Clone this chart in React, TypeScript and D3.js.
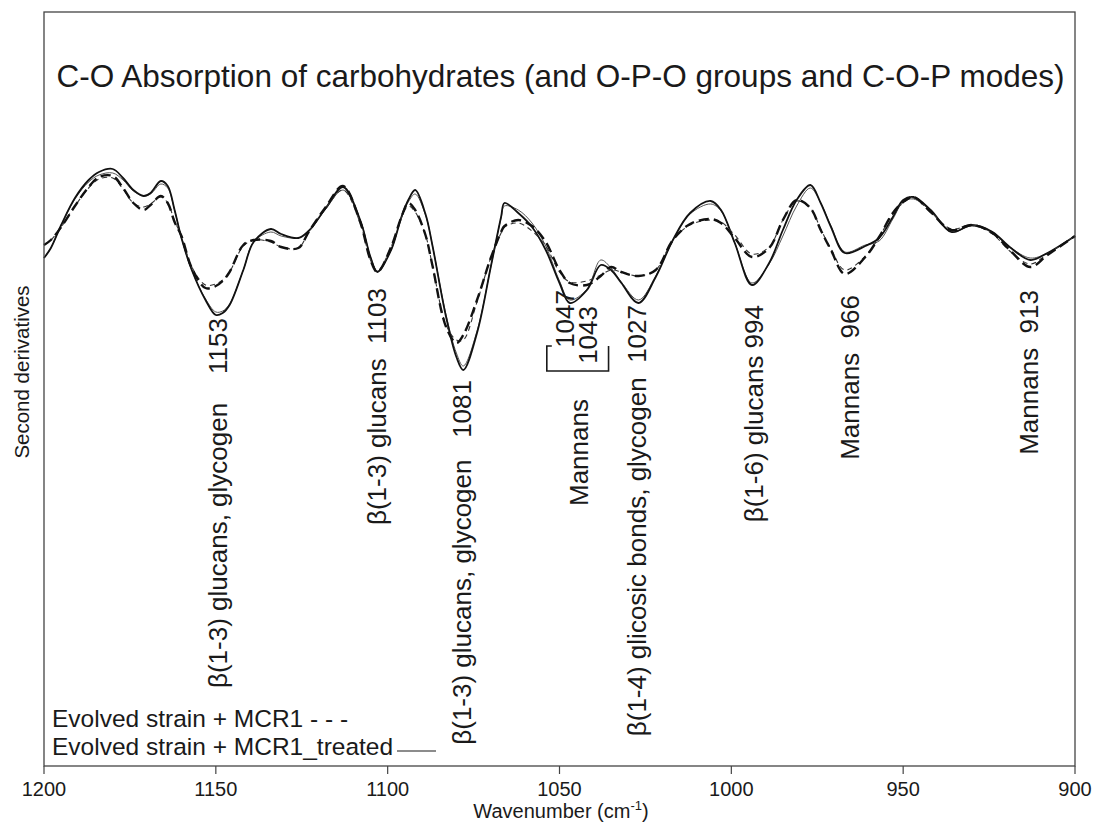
import React from "react";
import * as d3 from "d3";

// Wavenumber grid (cm-1) shared by every spectrum
const wavenumbers = [
  1200, 1198, 1195, 1191, 1187, 1184, 1180, 1177, 1174, 1171, 1169, 1166, 1164, 1162, 1160, 1157,
  1153, 1150, 1148, 1146, 1142, 1139, 1134, 1131, 1126, 1123, 1118, 1113, 1108, 1105, 1103, 1099,
  1096, 1094, 1092, 1089, 1087, 1083, 1080, 1078, 1074, 1070, 1067, 1066, 1062, 1058, 1054, 1050,
  1047, 1042, 1038, 1035, 1032, 1027, 1022, 1017, 1012, 1006, 1003, 999, 994, 989, 985, 981, 977,
  974, 971, 967, 961, 957, 953, 950, 947, 942, 936, 930, 924, 919, 913, 908, 900,
];

// Evolved strain + MCR1 (dashed), two replicate spectra
const mcr1 = [
  0.05, 0.1, 0.23, 0.44, 0.63, 0.73, 0.74, 0.62, 0.47, 0.4, 0.45, 0.54, 0.47, 0.28, 0.14, -0.18,
  -0.38, -0.36, -0.31, -0.22, 0.05, 0.1, 0.09, 0.03, 0.02, 0.18, 0.43, 0.64, 0.28, -0.1, -0.22, 0.03,
  0.33, 0.47, 0.4, 0.15, -0.15, -0.77, -0.93, -0.85, -0.5, -0.08, 0.18, 0.24, 0.3, 0.24, 0.08, -0.2,
  -0.33, -0.35, -0.26, -0.17, -0.22, -0.26, -0.2, 0.1, 0.26, 0.31, 0.27, 0.12, -0.07, 0.02, 0.3, 0.5, 0.42,
  0.2, 0.0, -0.24, -0.07, 0.13, 0.37, 0.48, 0.53, 0.38, 0.2, 0.25, 0.17, 0.0, -0.17, -0.05, 0.14,
];
const mcr1Replicate = [
  0.05, 0.1, 0.23, 0.44, 0.62, 0.71, 0.72, 0.61, 0.47, 0.43, 0.46, 0.53, 0.47, 0.29, 0.14, -0.17,
  -0.35, -0.34, -0.3, -0.22, 0.04, 0.1, 0.08, 0.03, 0.02, 0.18, 0.42, 0.6, 0.27, -0.1, -0.21, 0.03,
  0.32, 0.44, 0.38, 0.15, -0.15, -0.75, -0.9, -0.9, -0.52, -0.08, 0.17, 0.23, 0.27, 0.19, 0.04, -0.22,
  -0.32, -0.31, -0.25, -0.2, -0.22, -0.26, -0.2, 0.1, 0.25, 0.3, 0.28, 0.15, -0.04, 0.03, 0.3, 0.49, 0.42,
  0.21, 0.01, -0.2, -0.06, 0.13, 0.36, 0.47, 0.52, 0.38, 0.21, 0.25, 0.16, -0.01, -0.14, -0.04, 0.14,
];

// Evolved strain + MCR1_treated (solid), two replicate spectra
const mcr1Treated = [
  -0.08, 0.02, 0.25, 0.52, 0.7, 0.78, 0.81, 0.72, 0.6, 0.54, 0.57, 0.69, 0.64, 0.4, 0.12, -0.2,
  -0.5, -0.65, -0.63, -0.55, -0.2, 0.08, 0.21, 0.16, 0.12, 0.19, 0.42, 0.63, 0.3, -0.07, -0.22, 0.0,
  0.33, 0.5, 0.6, 0.36, 0.05, -0.67, -1.07, -1.2, -0.83, -0.17, 0.33, 0.47, 0.37, 0.23, 0.0, -0.33,
  -0.53, -0.4, -0.15, -0.2, -0.33, -0.53, -0.27, 0.1, 0.37, 0.49, 0.4, 0.07, -0.35, -0.13, 0.2, 0.5, 0.65,
  0.47, 0.23, -0.03, 0.04, 0.12, 0.33, 0.5, 0.53, 0.4, 0.18, 0.25, 0.18, 0.03, -0.1, -0.03, 0.14,
];
const mcr1TreatedReplicate = [
  -0.08, 0.02, 0.25, 0.51, 0.68, 0.75, 0.77, 0.7, 0.59, 0.54, 0.56, 0.66, 0.62, 0.4, 0.12, -0.2,
  -0.49, -0.62, -0.61, -0.54, -0.2, 0.08, 0.18, 0.14, 0.12, 0.19, 0.41, 0.6, 0.3, -0.07, -0.21, 0.0,
  0.33, 0.48, 0.56, 0.35, 0.05, -0.65, -1.03, -1.16, -0.81, -0.17, 0.32, 0.44, 0.4, 0.27, 0.04, -0.31,
  -0.5, -0.39, -0.1, -0.18, -0.32, -0.5, -0.26, 0.1, 0.36, 0.46, 0.39, 0.07, -0.33, -0.14, 0.14, 0.44, 0.62,
  0.47, 0.24, -0.02, 0.05, 0.09, 0.31, 0.48, 0.51, 0.39, 0.18, 0.24, 0.17, 0.03, -0.08, -0.03, 0.14,
];

const xTicks = [1200, 1150, 1100, 1050, 1000, 950, 900];

// Assigned bands (cm-1) and what they are attributed to
const bandNumbers = [1153, 1103, 1081, 1047, 1043, 1027, 994, 966, 913];
const bandAssignments = [
  "β(1-3) glucans, glycogen",
  "β(1-3) glucans",
  "β(1-3) glucans, glycogen",
  "Mannans",
  "Mannans",
  "β(1-4) glicosic bonds, glycogen",
  "β(1-6) glucans",
  "Mannans",
  "Mannans",
];

const FONT = "Arial, 'Liberation Sans', Helvetica, sans-serif";
const INK = "#1a1a1a";

export default function App() {
  const W = 1103;
  const H = 827;
  const plot = { left: 44, right: 1075, top: 12, bottom: 766 };

  const x = d3.scaleLinear().domain([1200, 900]).range([plot.left, plot.right]);
  const y = d3.scaleLinear().domain([-5.16, 2.38]).range([plot.bottom, plot.top]);

  const line = d3
    .line<number>()
    .x((_, i) => x(wavenumbers[i]))
    .y((d) => y(d))
    .curve(d3.curveCatmullRom.alpha(0.5));

  // label placement: horizontal nudge from the band position, where the label ends (top),
  // and the width of the gap between assignment and band position
  const labelSpots = [
    { dx: 12, top: 318, gap: 4 },
    { dx: 0, top: 288, gap: 2 },
    { dx: 9, top: 380, gap: 3 },
    { dx: -5, top: 290, gap: 0 },
    { dx: 4, top: 306, gap: 0 },
    { dx: -2, top: 305, gap: 2 },
    { dx: 2, top: 305, gap: 1 },
    { dx: 2, top: 295, gap: 2 },
    { dx: -1, top: 290, gap: 2 },
  ];

  const LABEL_SIZE = 26;

  const vText = (key: string, cx: number, cy: number, anchor: string, text: string) => (
    <text
      key={key}
      transform={`translate(${cx},${cy}) rotate(-90)`}
      textAnchor={anchor}
      dominantBaseline="central"
      fontSize={LABEL_SIZE}
      fontFamily={FONT}
      fill={INK}
      style={{ whiteSpace: "pre" }}
    >
      {text}
    </text>
  );

  // 1047 and 1043 share one "Mannans" label under a bracket
  const pair = [3, 4];
  const bx0 = x(1047) - 23;
  const bx1 = x(1043) + 25;
  const pairCenter = (bx0 + bx1) / 2;

  return (
    <svg
      width={W}
      height={H}
      style={{ position: "absolute", left: 0, top: 0, background: "#fff" }}
    >
      <rect x={0} y={0} width={W} height={H} fill="#fff" />

      {/* spectra */}
      <path d={line(mcr1TreatedReplicate) || ""} fill="none" stroke="#555" strokeWidth={1} />
      <path d={line(mcr1Treated) || ""} fill="none" stroke="#111" strokeWidth={1.8} />
      <path
        d={line(mcr1Replicate) || ""}
        fill="none"
        stroke="#333"
        strokeWidth={1.1}
        strokeDasharray="5 4"
      />
      <path
        d={line(mcr1) || ""}
        fill="none"
        stroke="#111"
        strokeWidth={2.4}
        strokeDasharray="10 5"
      />

      {/* frame */}
      <rect
        x={plot.left}
        y={plot.top}
        width={plot.right - plot.left}
        height={plot.bottom - plot.top}
        fill="none"
        stroke="#444"
        strokeWidth={1.3}
      />

      {/* title */}
      <text
        x={(plot.left + plot.right) / 2 + 1}
        y={87}
        textAnchor="middle"
        fontSize={31.5}
        fontFamily={FONT}
        fill={INK}
      >
        C-O Absorption of carbohydrates (and O-P-O groups and C-O-P modes)
      </text>

      {/* x axis ticks and labels */}
      {xTicks.map((t) => (
        <g key={t}>
          <line x1={x(t)} x2={x(t)} y1={plot.bottom} y2={plot.bottom + 8} stroke="#444" strokeWidth={1.2} />
          <text
            x={x(t)}
            y={plot.bottom + 30}
            textAnchor="middle"
            fontSize={20}
            fontFamily={FONT}
            fill={INK}
          >
            {t}
          </text>
        </g>
      ))}
      <text x={561} y={818} textAnchor="middle" fontSize={20} fontFamily={FONT} fill={INK}>
        Wavenumber (cm
        <tspan fontSize={13} dy={-8}>-1</tspan>
        <tspan dy={8}>)</tspan>
      </text>

      {/* y axis title */}
      <text
        transform={`translate(21,${372}) rotate(-90)`}
        textAnchor="middle"
        dominantBaseline="central"
        fontSize={20.5}
        fontFamily={FONT}
        fill={INK}
      >
        Second derivatives
      </text>

      {/* band labels: assignment followed by the band position */}
      {bandNumbers.map((b, i) => {
        const s = labelSpots[i];
        const text = pair.includes(i)
          ? String(b)
          : `${bandAssignments[i]}${" ".repeat(s.gap)}${b}`;
        return vText(`b${b}`, x(b) + s.dx, s.top, "end", text);
      })}

      {/* shared label of the 1047 / 1043 pair */}
      {vText("pair", pairCenter + 1, 506, "start", bandAssignments[pair[0]])}

      {/* bracket grouping 1047 / 1043 */}
      <path
        d={`M${bx0 + 5},346 H${bx0} V371 H${bx1} V346`}
        fill="none"
        stroke={INK}
        strokeWidth={1.6}
      />

      {/* legend */}
      <text x={52} y={727} fontSize={24.5} fontFamily={FONT} fill={INK}>
        Evolved strain + MCR1 - - -
      </text>
      <text x={52} y={755} fontSize={24.5} fontFamily={FONT} fill={INK}>
        Evolved strain + MCR1_treated
      </text>
      <line x1={397} x2={436} y1={751} y2={751} stroke={INK} strokeWidth={1.2} />
    </svg>
  );
}
